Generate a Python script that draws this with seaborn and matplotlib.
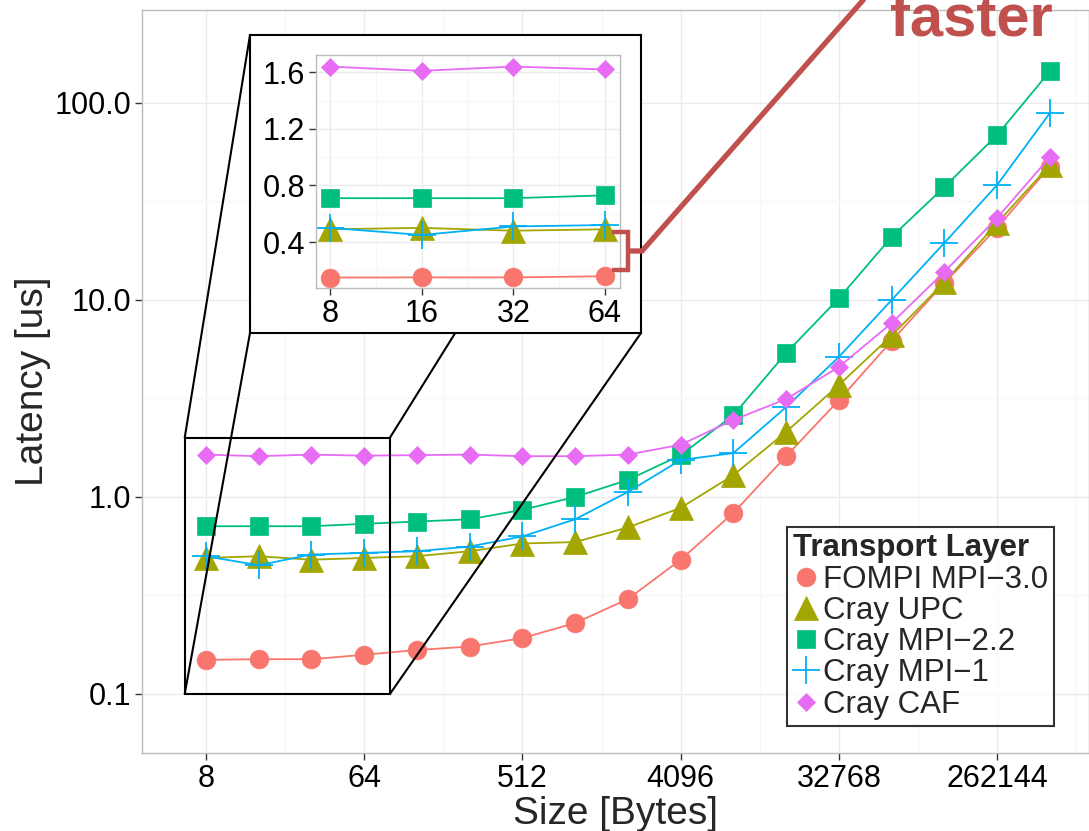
import matplotlib
matplotlib.use('Agg')
import pandas as pd
import matplotlib.pyplot as plt
import seaborn as sns
from matplotlib.lines import Line2D
from matplotlib.patches import Rectangle, ConnectionPatch
from matplotlib.ticker import FixedLocator, NullFormatter

sns.set_theme(style="white")
plt.rcParams['font.family'] = ['Liberation Sans', 'DejaVu Sans']

# message sizes in bytes (2^3 .. 2^19)
sizes = [8, 16, 32, 64, 128, 256, 512, 1024, 2048, 4096, 8192, 16384,
         32768, 65536, 131072, 262144, 524288]

# latency in us
fompi = [0.149, 0.150, 0.150, 0.158, 0.167, 0.174, 0.192, 0.229, 0.303,
         0.48, 0.83, 1.61, 3.1, 6.2, 12.2, 23.3, 47.5]
upc = [0.49, 0.50, 0.48, 0.49, 0.50, 0.53, 0.58, 0.59, 0.70,
       0.88, 1.29, 2.14, 3.7, 6.6, 12.3, 24.6, 48.4]
mpi22 = [0.71, 0.71, 0.71, 0.73, 0.75, 0.77, 0.86, 1.0, 1.22,
         1.63, 2.6, 5.38, 10.2, 20.9, 37.5, 68.8, 145]
mpi1 = [0.50, 0.45, 0.51, 0.52, 0.53, 0.56, 0.63, 0.77, 1.06,
        1.54, 1.67, 2.86, 5.14, 10.0, 19.5, 38.4, 89]
caf = [1.64, 1.61, 1.64, 1.62, 1.63, 1.64, 1.61, 1.61, 1.64,
       1.84, 2.46, 3.14, 4.57, 7.64, 13.9, 26.1, 53.2]

layers = ['FOMPI MPI\u22123.0', 'Cray UPC', 'Cray MPI\u22122.2', 'Cray MPI\u22121', 'Cray CAF']
colors = ['#F8766D', '#A3A500', '#00BF7D', '#00B0F6', '#E76BF3']
markers = ['o', '^', 's', '+', 'D']
msizes = [13.5, 17, 13, 20, 9.5]

main_ticks = [8, 64, 512, 4096, 32768, 262144]
zoom_ticks = [8, 16, 32, 64]

rows = []
for name, vals in zip(layers, [fompi, upc, mpi22, mpi1, caf]):
    for s, v in zip(sizes, vals):
        rows.append({'Size': s, 'Latency': v, 'Transport Layer': name})
df = pd.DataFrame(rows)

W, H = 1089, 831
fig = plt.figure(figsize=(W / 100, H / 100), dpi=100)
fig.patch.set_facecolor('white')


def box(l, t, r, b):
    return [l / W, 1 - b / H, (r - l) / W, (b - t) / H]


def px(x, y):
    return (x / W, 1 - y / H)


def draw_series(ax, data):
    for name, c, m, ms in zip(layers, colors, markers, msizes):
        sub = data[data['Transport Layer'] == name]
        sns.lineplot(data=sub, x='Size', y='Latency', color=c, marker=m,
                     markersize=ms, markeredgecolor=c,
                     markeredgewidth=1.3 if m == '+' else 0.5,
                     linewidth=1.3, ax=ax, legend=False)


def style_axes(ax):
    ax.set_facecolor('white')
    ax.set_axisbelow(True)
    ax.grid(True, which='major', color='#EBEBEB', linewidth=1.0)
    ax.grid(True, which='minor', color='#F6F6F6', linewidth=0.9)
    for sp in ax.spines.values():
        sp.set_color('#BBBBBB')
        sp.set_linewidth(1.0)
    ax.tick_params(which='major', length=5, width=1, color='#333333',
                   labelsize=22, labelcolor='black', pad=3,
                   bottom=True, left=True)
    ax.tick_params(which='minor', length=0)
    ax.xaxis.set_minor_formatter(NullFormatter())
    ax.yaxis.set_minor_formatter(NullFormatter())


# ---- main panel ----
ax = fig.add_axes(box(142, 10, 1089, 753))
draw_series(ax, df)
ax.set_xscale('log', base=2)
ax.set_yscale('log')
ax.set_xlim(2 ** 1.79, 2 ** 19.74)
ax.set_ylim(10 ** -1.3, 10 ** 2.472)
ax.set_xticks(main_ticks, labels=[str(t) for t in main_ticks])
ax.xaxis.set_minor_locator(FixedLocator([2 ** (k + 0.5) for k in range(1, 20, 3)]))
ax.set_yticks([0.1, 1, 10, 100], labels=['0.1', '1.0', '10.0', '100.0'])
ax.yaxis.set_minor_locator(FixedLocator([10 ** (k + 0.5) for k in range(-2, 3)]))
style_axes(ax)
ax.set_xlabel('Size [Bytes]', fontsize=28, labelpad=1)
ax.set_ylabel('Latency [us]', fontsize=28, labelpad=2)

# zoomed region marker
zx0, zx1, zy0, zy1 = 2 ** 2.6, 2 ** 6.49, 0.1, 2.0
ax.add_patch(Rectangle((zx0, zy0), zx1 - zx0, zy1 - zy0, fill=False,
                       edgecolor='black', linewidth=1.5, zorder=6))

# lines from the zoom region to the inset frame
for (dx, dy), (fx, fy) in [((zx0, zy1), (250, 35)), ((zx1, zy1), (641, 35)),
                           ((zx0, zy0), (250, 333)), ((zx1, zy0), (641, 333))]:
    con = ConnectionPatch(xyA=(dx, dy), coordsA=ax.transData,
                          xyB=px(fx, fy), coordsB=fig.transFigure,
                          color='black', linewidth=1.5, zorder=0.5)
    fig.add_artist(con)

# legend
handles = [Line2D([], [], linestyle='none', marker=m, color=c, markeredgecolor=c,
                  markersize=ms, markeredgewidth=1.3 if m == '+' else 0.5)
           for c, m, ms in zip(colors, markers, msizes)]
leg = fig.legend(handles, layers, loc='upper left', bbox_to_anchor=px(787, 527),
                 title='Transport Layer', fontsize=22.5,
                 title_fontproperties={'weight': 'bold', 'size': 22.5},
                 alignment='left', frameon=True, fancybox=False,
                 borderpad=0.2, handlelength=0.8, handletextpad=0.15,
                 labelspacing=0.04, borderaxespad=0)
leg.get_frame().set_edgecolor('black')
leg.get_frame().set_linewidth(1.5)
leg.set_zorder(4)

# ---- inset ----
frame = fig.add_axes(box(250, 35, 641, 333), zorder=1)
frame.set_facecolor('white')
frame.set_xticks([])
frame.set_yticks([])
for sp in frame.spines.values():
    sp.set_color('black')
    sp.set_linewidth(1.5)

axin = fig.add_axes(box(316, 55, 620, 288), zorder=2)
draw_series(axin, df[df['Size'] <= 64])
axin.set_xscale('log', base=2)
axin.set_xlim(2 ** 2.847, 2 ** 6.164)
axin.set_ylim(0.075, 1.722)
axin.set_xticks(zoom_ticks, labels=[str(t) for t in zoom_ticks])
axin.xaxis.set_minor_locator(FixedLocator([2 ** (k + 0.5) for k in range(3, 6)]))
axin.set_yticks([0.4, 0.8, 1.2, 1.6], labels=['0.4', '0.8', '1.2', '1.6'])
axin.yaxis.set_minor_locator(FixedLocator([0.2, 0.6, 1.0, 1.4]))
style_axes(axin)
axin.set_xlabel('')
axin.set_ylabel('')

# ---- "faster" annotation ----
red = '#C0504D'
bx, by = zip(*[px(612, 232), px(628, 232), px(628, 270), px(612, 270)])
fig.add_artist(Line2D(bx, by, color=red, linewidth=3.2, zorder=3,
                      solid_joinstyle='miter', solid_capstyle='butt'))
lx, ly = zip(*[px(628, 251), px(642, 251), px(872, -10)])
fig.add_artist(Line2D(lx, ly, color=red, linewidth=3.8, zorder=3,
                      solid_joinstyle='miter', solid_capstyle='butt'))
fig.text(*px(890, 35), 'faster', fontsize=43, fontweight='bold', color=red,
         ha='left', va='baseline', zorder=3)

fig.savefig('out.png', dpi=100)
